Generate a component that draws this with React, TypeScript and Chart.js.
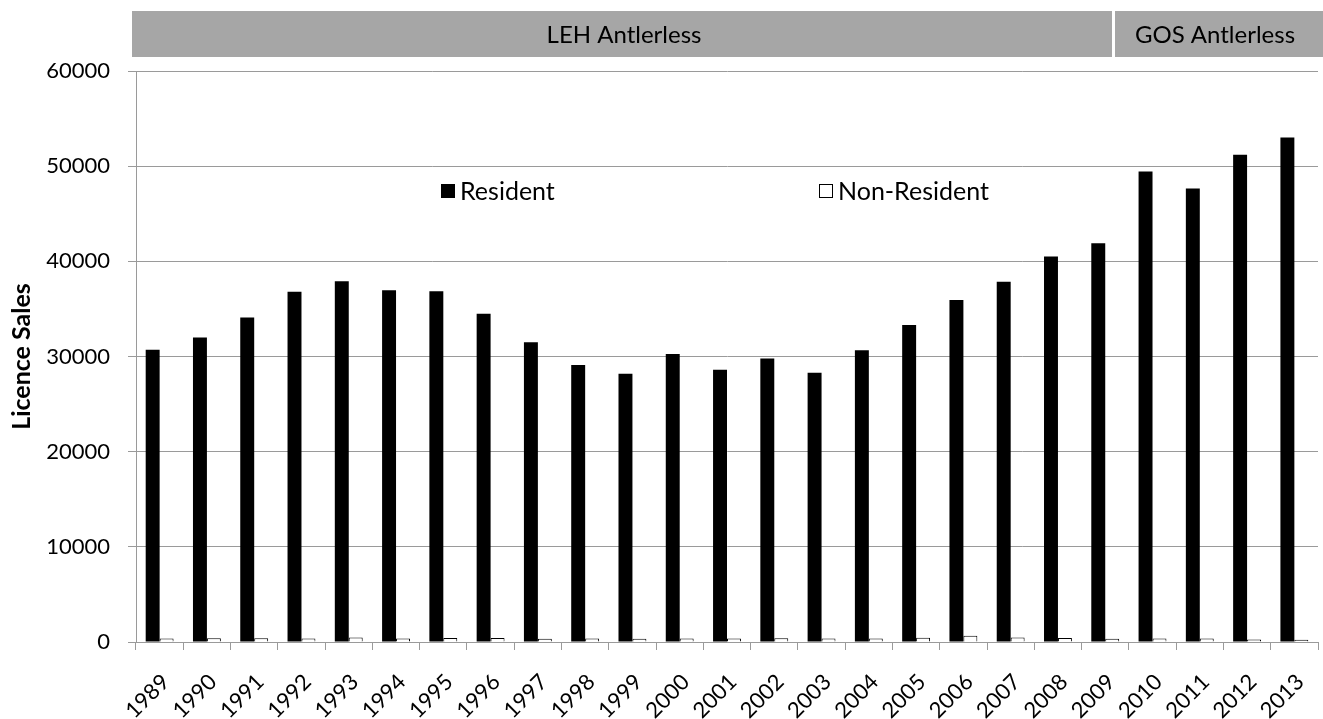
import { useEffect, useRef } from "react";
import { Chart, registerables } from "chart.js";

Chart.register(...registerables);

// Licence sales by year
const years = [
  "1989", "1990", "1991", "1992", "1993", "1994", "1995", "1996", "1997",
  "1998", "1999", "2000", "2001", "2002", "2003", "2004", "2005", "2006",
  "2007", "2008", "2009", "2010", "2011", "2012", "2013",
];

const residentSales = [
  30700, 32000, 34100, 36800, 37900, 36950, 36850, 34500, 31500,
  29100, 28200, 30250, 28600, 29800, 28300, 30650, 33300, 35950,
  37850, 40500, 41900, 49450, 47650, 51200, 53000,
];

const nonResidentSales = [
  380, 400, 400, 380, 480, 380, 420, 420, 340,
  380, 350, 380, 360, 400, 380, 380, 450, 650,
  480, 430, 330, 380, 380, 270, 230,
];

const seriesNames = ["Resident", "Non-Resident"];
const seasonLabels = ["LEH Antlerless", "GOS Antlerless"];
const axisTitle = "Licence Sales";

const FONT = "Lato, 'Open Sans', sans-serif";
const GRID = "#9a9a9a";

// Season bands, legend and axis title drawn over the chart
const overlayPlugin = {
  id: "overlay",
  afterDraw(chart: any) {
    const ctx = chart.ctx;
    const area = chart.chartArea;
    ctx.save();

    // season bands across the top
    ctx.fillStyle = "#a6a6a6";
    ctx.fillRect(132, 11, 980, 46);
    ctx.fillRect(1115, 11, 208, 46);
    ctx.fillStyle = "#000";
    ctx.font = `24px ${FONT}`;
    ctx.textAlign = "center";
    ctx.textBaseline = "middle";
    ctx.fillText(seasonLabels[0], 624, 35);
    ctx.fillText(seasonLabels[1], 1215, 35);

    // legend
    const items = [
      { x: 441, label: seriesNames[0], ds: chart.data.datasets[0] },
      { x: 819, label: seriesNames[1], ds: chart.data.datasets[1] },
    ];
    ctx.textAlign = "left";
    ctx.font = `25px ${FONT}`;
    for (const it of items) {
      ctx.fillStyle = it.ds.backgroundColor;
      ctx.fillRect(it.x, 184, 14, 14);
      ctx.strokeStyle = "#000";
      ctx.lineWidth = 1;
      ctx.strokeRect(it.x + 0.5, 184.5, 13, 13);
      ctx.fillStyle = "#000";
      ctx.fillText(it.label, it.x + 19, 192);
    }

    // y-axis title, centred on the plot area
    ctx.translate(22, (area.top + area.bottom) / 2);
    ctx.rotate(-Math.PI / 2);
    ctx.font = `bold 25px ${FONT}`;
    ctx.textAlign = "center";
    ctx.fillText(axisTitle, 0, 0);

    ctx.restore();
  },
};

export default function App() {
  const canvasRef = useRef<HTMLCanvasElement | null>(null);

  useEffect(() => {
    const canvas = canvasRef.current;
    if (!canvas) return;
    const chart = new Chart(canvas, {
      type: "bar",
      data: {
        labels: years,
        datasets: [
          {
            label: seriesNames[0],
            data: residentSales,
            backgroundColor: "#000000",
            borderColor: "#000000",
            borderWidth: 0,
            categoryPercentage: 0.59,
            barPercentage: 1,
          },
          {
            label: seriesNames[1],
            data: nonResidentSales,
            backgroundColor: "#ffffff",
            borderColor: "#000000",
            borderWidth: 1,
            categoryPercentage: 0.59,
            barPercentage: 1,
          },
        ],
      },
      options: {
        responsive: false,
        animation: false,
        layout: { padding: { left: 0, right: 5, top: 71, bottom: 0 } },
        plugins: {
          legend: { display: false },
          tooltip: { enabled: false },
        },
        scales: {
          x: {
            grid: {
              offset: true,
              drawOnChartArea: false,
              drawTicks: true,
              tickLength: 8,
              color: GRID,
            },
            border: { color: GRID, width: 1 },
            ticks: {
              color: "#000",
              font: { family: FONT, size: 22 },
              minRotation: 45,
              maxRotation: 45,
              labelOffset: 6,
              padding: 19,
              autoSkip: false,
            },
            afterFit(scale: any) {
              scale.height = 77;
              scale.paddingLeft = 0;
              scale.paddingRight = 0;
            },
          },
          y: {
            min: 0,
            max: 60000,
            grid: {
              color: GRID,
              tickLength: 8,
              drawTicks: true,
            },
            border: { color: GRID, width: 1 },
            ticks: {
              stepSize: 10000,
              color: "#000",
              font: { family: FONT, size: 22 },
              padding: 18,
              callback: (value: any) => String(value),
            },
            afterFit(scale: any) {
              scale.width = 136;
              scale.paddingTop = 0;
              scale.paddingBottom = 0;
            },
          },
        },
      },
      plugins: [overlayPlugin],
    });
    return () => chart.destroy();
  }, []);

  return (
    <div style={{ position: "fixed", left: 0, top: 0, width: 1323, height: 719, background: "#fff" }}>
      <canvas ref={canvasRef} width={1323} height={719} />
    </div>
  );
}
